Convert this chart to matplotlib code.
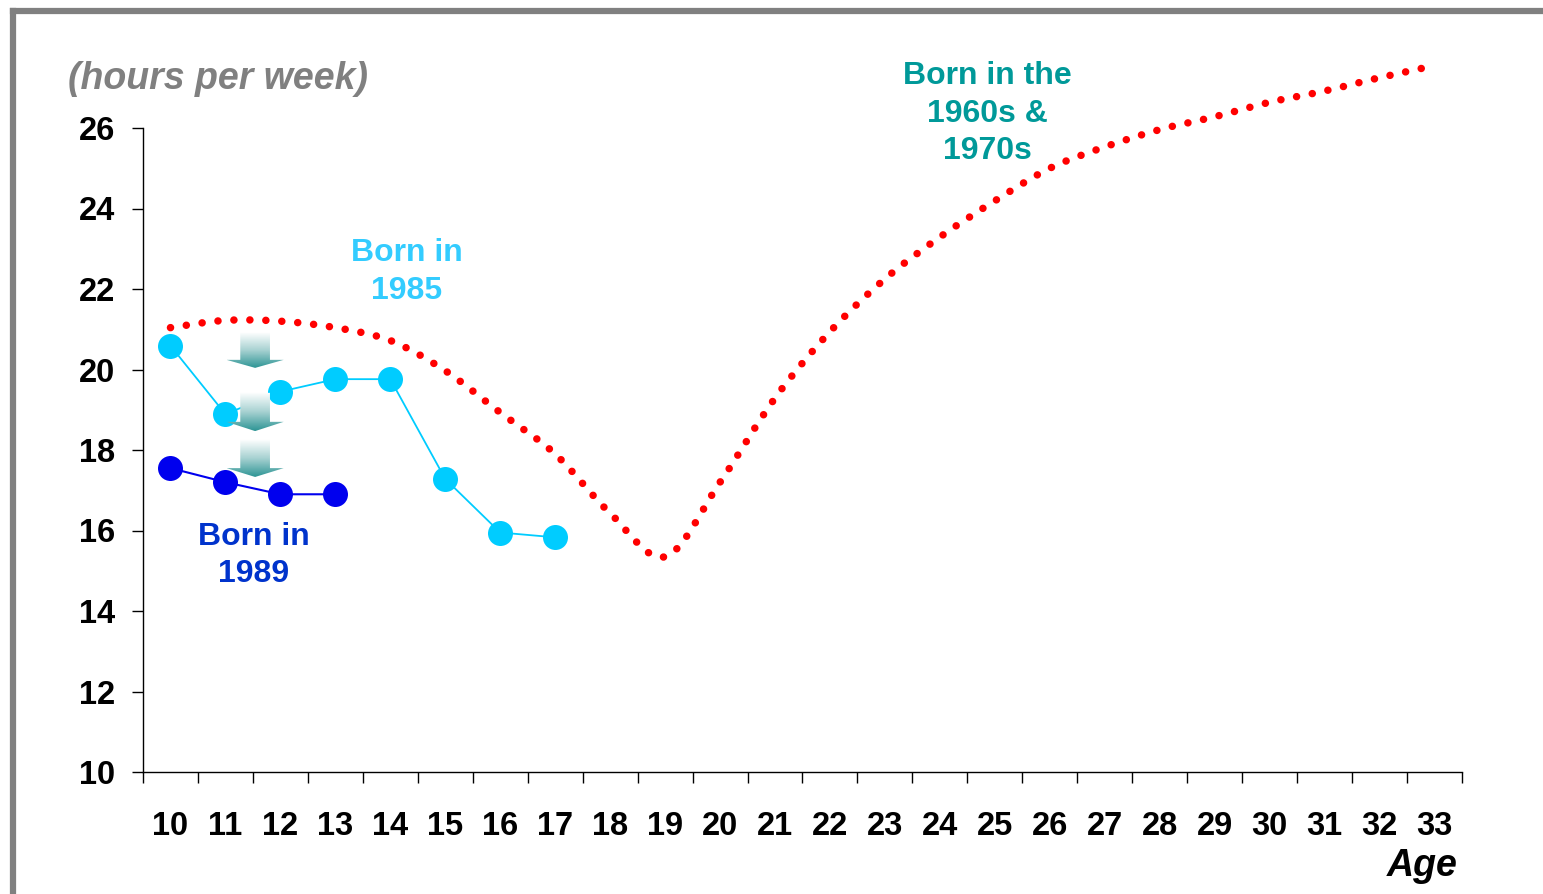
import numpy as np
import matplotlib.pyplot as plt
from matplotlib.path import Path
from matplotlib.patches import PathPatch, Polygon
from matplotlib.colors import LinearSegmentedColormap
from matplotlib.lines import Line2D

plt.rcParams['font.family'] = ['Liberation Sans', 'DejaVu Sans']

ages = list(range(10, 34))
# hours per week, by age
born_60s_70s = [21.04, 21.22, 21.20, 21.04, 20.72, 19.97, 18.93, 17.90, 16.43, 15.35,
                17.20, 19.29, 20.94, 22.25, 23.29, 24.19, 25.00, 25.53, 25.96, 26.28,
                26.64, 26.92, 27.25, 27.55]
born_1985 = [20.59, 18.89, 19.45, 19.76, 19.76, 17.28, 15.95, 15.83]
born_1989 = [17.55, 17.20, 16.90, 16.90]
y_ticks = [10, 12, 14, 16, 18, 20, 22, 24, 26]

fig = plt.figure(figsize=(15.43, 8.94), dpi=100)
ax = fig.add_axes([143 / 1543, 1 - 772 / 894, (1462 - 143) / 1543, (772 - 128) / 894])

x = np.arange(len(ages))


def smooth_path(xs, ys):
    # Catmull-Rom through the points, written as cubic Bezier segments
    pts = np.column_stack([xs, ys]).astype(float)
    ext = np.vstack([pts[0], pts, pts[-1]])
    verts = [pts[0]]
    codes = [Path.MOVETO]
    for i in range(1, len(ext) - 2):
        p0, p1, p2, p3 = ext[i - 1], ext[i], ext[i + 1], ext[i + 2]
        verts += [p1 + (p2 - p0) / 6, p2 - (p3 - p1) / 6, p2]
        codes += [Path.CURVE4] * 3
    return Path(verts, codes)


curve = PathPatch(smooth_path(x, born_60s_70s), fill=False, edgecolor='#FF0000',
                  linewidth=5.4, linestyle=(0, (0.01, 2.12)), capstyle='round',
                  clip_on=False, zorder=3)
ax.add_patch(curve)

n85 = len(born_1985)
ax.plot(x[:n85], born_1985, color='#00CCFF', linewidth=1.3, marker='o',
        markersize=18, markeredgewidth=0, zorder=4)
n89 = len(born_1989)
ax.plot(x[:n89], born_1989, color='#0000EE', linewidth=1.5, marker='o',
        markersize=18, markeredgewidth=0, zorder=4)

# shaded down arrows between the cohorts
arrow_cmap = LinearSegmentedColormap.from_list('fade', ['#FFFFFF', '#A8D2D2', '#2E9595'])
arrows = [(20.91, 20.24, 20.04), (19.42, 18.70, 18.47), (18.25, 17.55, 17.33)]
cx, sw, hw = 1.54, 0.27, 0.52
for top, neck, tip in arrows:
    poly = Polygon([(cx - sw, top), (cx + sw, top), (cx + sw, neck), (cx + hw, neck),
                    (cx, tip), (cx - hw, neck), (cx - sw, neck)],
                   closed=True, facecolor='none', edgecolor='none')
    ax.add_patch(poly)
    grad = np.linspace(0, 1, 100).reshape(-1, 1)
    im = ax.imshow(grad, cmap=arrow_cmap, aspect='auto', origin='upper',
                   extent=(cx - hw, cx + hw, tip, top), zorder=5, interpolation='bilinear')
    im.set_clip_path(poly)

ax.set_xlim(-0.5, len(ages) - 0.5)
ax.set_ylim(10, 26)
ax.set_xticks(np.arange(len(ages) + 1) - 0.5)
ax.set_xticklabels([])
ax.set_xticks(x, minor=True)
ax.set_xticklabels([str(a) for a in ages], minor=True, fontsize=23.5, fontweight='bold')
ax.tick_params(axis='x', which='major', direction='out', length=8, width=1)
ax.tick_params(axis='x', which='minor', length=0, pad=28)
ax.set_yticks(y_ticks)
ax.set_yticklabels([str(v) for v in y_ticks], fontsize=23.5, fontweight='bold')
ax.tick_params(axis='y', direction='out', length=8, width=1, pad=12)
for s in ('top', 'right'):
    ax.spines[s].set_visible(False)
for s in ('left', 'bottom'):
    ax.spines[s].set_linewidth(1)

ax.text(14.87, 26.36, 'Born in the\n1960s &\n1970s', color='#009999', fontsize=23,
        fontweight='bold', ha='center', va='center', linespacing=1.34)
ax.text(4.30, 22.43, 'Born in\n1985', color='#33CCFF', fontsize=23,
        fontweight='bold', ha='center', va='center', linespacing=1.34)
ax.text(1.52, 15.38, 'Born in\n1989', color='#0033CC', fontsize=23,
        fontweight='bold', ha='center', va='center', linespacing=1.34)

fig.text(68 / 1543, 1 - 79 / 894, '(hours per week)', color='#808080', fontsize=27,
         fontweight='bold', fontstyle='italic', ha='left', va='center')
fig.text(1458 / 1543, 1 - 866 / 894, 'Age', color='black', fontsize=27,
         fontweight='bold', fontstyle='italic', ha='right', va='center')

# grey frame along the left and top edges
fig.add_artist(Line2D([13 / 1543, 13 / 1543], [0, 1 - 11 / 894], color='#808080',
                      linewidth=4.5, solid_capstyle='projecting'))
fig.add_artist(Line2D([13 / 1543, 1], [1 - 11 / 894, 1 - 11 / 894], color='#808080',
                      linewidth=4.5, solid_capstyle='projecting'))

fig.savefig('out.png', dpi=100)
